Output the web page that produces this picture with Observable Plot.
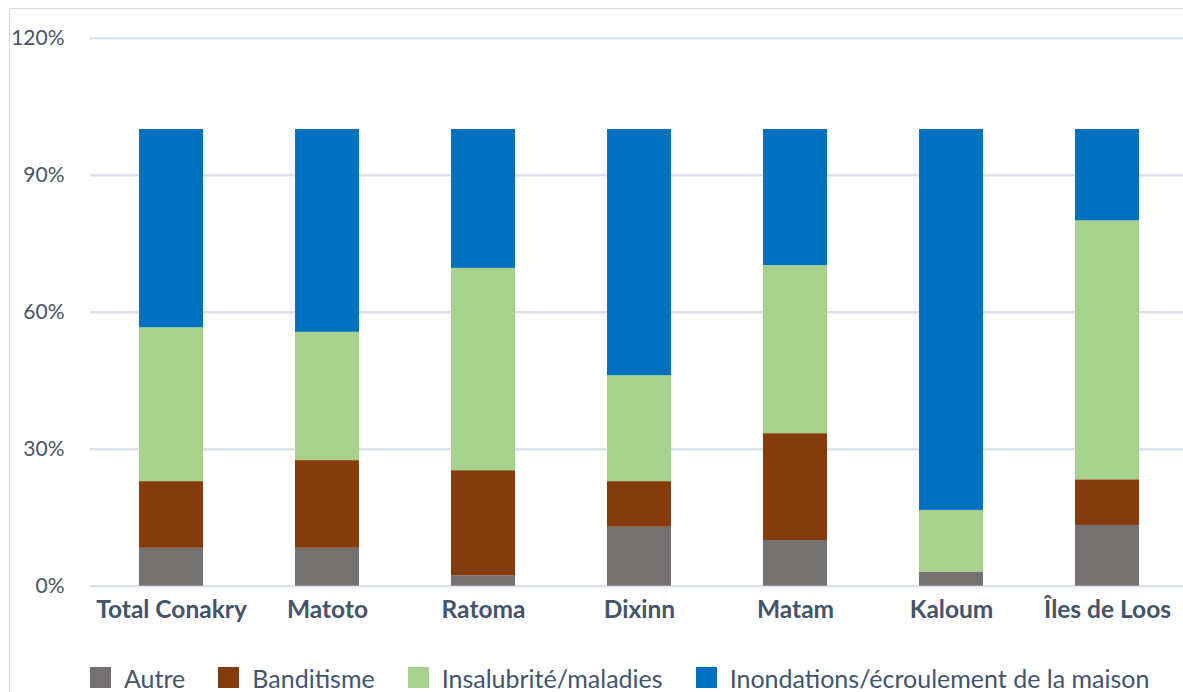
<!DOCTYPE html>
<html>
<head>
<meta charset="utf-8">
<script src="https://cdn.jsdelivr.net/npm/d3@7"></script>
<script src="https://cdn.jsdelivr.net/npm/@observablehq/plot@0.6"></script>
<style>
  html, body { margin: 0; padding: 0; background: #fff; }
  body { width: 1183px; height: 692px; overflow: hidden; position: relative; font-family: Lato, "Open Sans", sans-serif; }
  #frame { position: absolute; left: 9px; top: 8px; width: 1300px; height: 800px; border-left: 1px solid #d9d9d9; border-top: 1px solid #d9d9d9; pointer-events: none; }
  #legend { display: flex; align-items: center; margin-top: 5px; padding-left: 90px; color: #44546A; font-size: 25px; white-space: nowrap; }
  .item { display: flex; align-items: center; margin-right: 33px; }
  .sw { width: 21px; height: 21px; margin-right: 13px; flex: none; }
  .lbl { line-height: 24px; position: relative; top: 1px; }
</style>
</head>
<body>
<div id="chart"></div>
<div id="legend"></div>
<div id="frame"></div>
<script>
const categories = ["Total Conakry", "Matoto", "Ratoma", "Dixinn", "Matam", "Kaloum", "Îles de Loos"];
const series = ["Autre", "Banditisme", "Insalubrité/maladies", "Inondations/écroulement de la maison"];
const autre       = [8.3, 8.3, 2.3, 12.9, 10.0, 3.0, 13.3];
const banditisme  = [14.6, 19.2, 23.0, 10.0, 23.4, 0.0, 10.0];
const insalubrite = [33.7, 28.1, 44.3, 23.2, 36.8, 13.6, 56.7];
const inondations = [43.4, 44.4, 30.4, 53.9, 29.8, 83.4, 20.0];
const colors = ["#767171", "#843C0C", "#A9D18E", "#0070C0"];
const yTicks = [0, 30, 60, 90, 120];

const seriesValues = [autre, banditisme, insalubrite, inondations];
const data = [];
series.forEach((s, i) => {
  categories.forEach((c, j) => {
    data.push({category: c, series: s, value: seriesValues[i][j]});
  });
});

const H = 660;
const chart = Plot.plot({
  width: 1183,
  height: H,
  marginTop: 37.7,
  marginBottom: H - 585.7,
  marginLeft: 90,
  marginRight: 0,
  style: {fontFamily: "Lato, 'Open Sans', sans-serif", color: "#44546A", background: "transparent"},
  x: {domain: categories, range: [90.5, 1187.5], paddingInner: 0.59, paddingOuter: 0.295, align: 0.5},
  y: {domain: [0, 120]},
  color: {domain: series, range: colors},
  marks: [
    Plot.gridY(yTicks, {stroke: "#DCE1EA", strokeOpacity: 1, strokeWidth: 2.5}),
    Plot.barY(data, {x: "category", y: "value", fill: "series"}),
    Plot.axisY({ticks: yTicks, tickFormat: d => d + "%", tickSize: 0, tickPadding: 26, fontSize: 21, label: null, fill: "#44546A"}),
    Plot.axisX({tickSize: 0, tickPadding: 14, fontSize: 24.5, fontWeight: "bold", label: null, fill: "#44546A"})
  ]
});
document.getElementById("chart").appendChild(chart);

const legend = document.getElementById("legend");
series.forEach((s, i) => {
  const item = document.createElement("div");
  item.className = "item";
  const sw = document.createElement("span");
  sw.className = "sw";
  sw.style.background = colors[i];
  const lbl = document.createElement("span");
  lbl.className = "lbl";
  lbl.textContent = s;
  item.appendChild(sw);
  item.appendChild(lbl);
  legend.appendChild(item);
});
</script>
</body>
</html>
